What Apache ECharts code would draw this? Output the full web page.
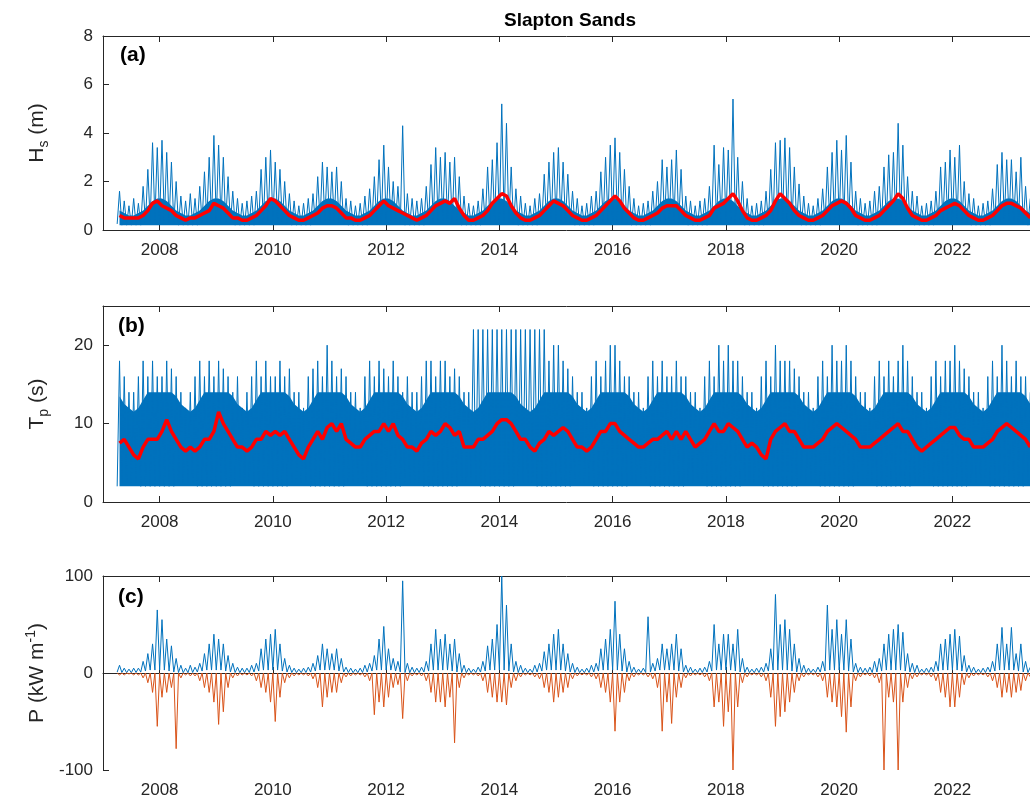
<!DOCTYPE html>
<html>
<head>
<meta charset="utf-8">
<script src="https://cdn.jsdelivr.net/npm/echarts@6/dist/echarts.min.js"></script>
<style>html,body{margin:0;padding:0;background:#fff}#chart{width:1030px;height:809px}</style>
</head>
<body>
<div id="chart"></div>
<script>
// monthly values, Apr 2007 .. May 2023
const startYear = 2007, startMonth = 3;
const yearTicks = [2008, 2010, 2012, 2014, 2016, 2018, 2020, 2022];

const hsPeak = [
  1.6,1.2,1.0,1.3,1.1,1.8,2.5,3.6,3.4,
  3.7,3.2,2.8,2.0,1.4,1.2,1.5,1.3,1.8,2.4,3.0,3.9,
  3.5,3.0,2.2,1.6,1.3,1.1,1.2,1.4,1.6,2.5,3.0,3.3,
  2.8,2.5,2.0,1.5,1.2,1.0,1.1,1.3,1.5,2.2,2.8,2.6,
  2.4,2.6,2.0,1.3,1.2,1.0,1.1,1.4,1.7,2.2,2.9,3.5,
  2.6,2.0,1.8,4.3,1.5,1.3,1.2,1.3,1.8,2.7,3.4,3.0,
  3.2,2.8,3.0,2.2,1.4,1.1,1.0,1.2,1.7,2.6,2.9,3.6,
  5.2,4.4,2.6,1.7,1.4,1.1,1.0,1.3,1.5,2.3,2.8,3.2,
  3.4,2.8,2.3,1.6,1.3,1.0,1.1,1.4,1.6,2.4,3.0,3.5,
  3.8,3.2,2.5,1.8,1.3,1.0,1.1,1.2,1.6,2.0,2.9,2.6,
  2.9,3.3,2.5,1.4,1.2,1.0,1.2,1.3,1.8,3.5,2.7,3.4,
  3.3,5.4,3.0,2.0,1.3,1.0,1.1,1.2,1.6,2.5,3.6,3.7,
  3.8,3.4,2.6,1.9,1.4,1.1,1.0,1.3,1.7,2.6,3.2,3.7,
  3.3,3.9,2.8,1.6,1.3,1.1,1.2,1.6,1.8,2.6,3.1,3.2,
  4.4,3.5,2.2,1.6,1.4,1.0,1.1,1.2,1.6,2.6,2.8,3.3,
  3.0,3.5,2.0,1.5,1.3,1.0,1.1,1.2,1.7,2.7,3.2,2.9,
  2.9,2.4,3.0,1.8,1.3
];
const hsLowByMonth = [0.4,0.4,0.3,0.25,0.2,0.2,0.2,0.2,0.2,0.3,0.35,0.4];
const hsBandByMonth = [1.3,1.2,1.0,0.8,0.7,0.6,0.6,0.7,0.8,1.0,1.2,1.3];
const hsMean = [
  .6,.5,.5,.5,.5,.6,.8,1.1,1.2,
  1.0,.9,.8,.6,.5,.4,.5,.5,.6,.7,.8,1.1,
  1.0,.9,.7,.5,.5,.4,.4,.5,.6,.8,1.0,1.3,
  1.2,1.0,.8,.6,.5,.4,.4,.5,.6,.7,.9,1.0,
  1.0,.9,.7,.5,.5,.4,.4,.5,.6,.8,1.0,1.2,
  1.0,.9,.8,.7,.6,.5,.4,.5,.6,.8,1.0,1.1,
  1.2,1.1,1.3,.9,.6,.4,.4,.5,.6,.8,1.1,1.3,
  1.5,1.4,1.0,.7,.5,.4,.4,.5,.6,.8,1.0,1.2,
  1.1,1.0,.8,.6,.5,.4,.4,.5,.6,.8,1.0,1.2,
  1.4,1.2,.9,.7,.5,.4,.4,.5,.6,.7,.9,1.0,
  1.0,1.0,.8,.6,.5,.4,.4,.5,.6,.9,1.0,1.1,
  1.3,1.5,1.2,.8,.5,.4,.4,.5,.6,.8,1.2,1.5,
  1.3,1.1,.8,.6,.5,.4,.4,.5,.6,.8,1.0,1.1,
  1.2,1.1,.9,.6,.5,.4,.4,.5,.6,.8,1.0,1.2,
  1.5,1.3,.9,.6,.5,.4,.4,.5,.6,.8,.9,1.0,
  1.1,1.0,.8,.6,.5,.4,.4,.5,.6,.8,1.0,1.1,
  1.1,1.0,.9,.7,.5
];

const tpPeak = [
  18,16,14,14,16,18,16,18,16,
  16,18,17,16,14,12,14,16,18,16,18,16,
  18,17,16,14,16,12,14,16,18,16,18,16,
  16,18,16,17,14,14,12,16,17,18,16,20,
  18,16,17,16,14,14,12,16,18,16,18,17,
  16,18,16,14,16,14,14,16,18,18,16,18,
  18,16,17,16,14,14,22,22,22,22,22,22,
  22,22,22,22,22,22,22,22,22,22,18,20,
  20,18,17,16,14,14,12,16,18,16,18,20,
  20,18,16,16,14,14,12,16,18,16,18,16,
  16,18,16,16,14,14,12,16,18,16,20,18,
  20,18,18,16,14,14,12,16,18,16,20,18,
  18,18,17,16,14,14,12,16,18,16,20,18,
  18,20,18,16,14,14,12,16,18,16,18,16,
  18,20,18,16,14,14,12,16,18,16,18,18,
  20,18,17,16,14,14,12,16,18,16,20,18,
  16,18,16,16,14
];
const tpLowByMonth = [2,2,2,2,2.5,2.5,2.5,2.5,2,2,2,2];
const tpBandByMonth = [14,14,14,13.5,12.5,12,11.5,12,13,14,14,14];
const tpMean = [
  7.5,8,7,6,5.5,7,8,8,8,
  9,10.5,9,8,7,6.5,7,6.5,7,8,8,9,
  11.5,10,9,8,7,7,6.5,7,8,8,9,8.5,
  9,8.5,9,8,7,6,5.5,7,8,9,8,9.5,
  10,9,10,8,7.5,7,7,8,8.5,9,9,10,
  9,10,8.5,8,7,7,6.5,7.5,8,9,8.5,9,
  10,9.5,8.5,9,7,7,7,8,8,8.5,9,10,
  10.5,10.5,10,9,8,8,7,6.5,7.5,8,9,8.5,
  9,9.5,9,8,7,7,6.5,7,8,9,9,10,
  10,9,8.5,8,7.5,7,7,7.5,8,8,8.5,9,
  8,9,8,9,8,7,7.5,8,9,10,9,9,
  10,9.5,9,8,7,7.5,7,6,5.5,8,9,9.5,
  10,9,9,8,7,7,7,7.5,8,9,9.5,10,
  9.5,9,8.5,8,7,7,7,7.5,8,8.5,9,9.5,
  10,9,9,8,7,6.5,7,7.5,8,8.5,9,9.5,
  9.5,8.5,8,8,7,7,7,7.5,8,9,9.5,10,
  9.5,9,8.5,8,7
];

const pPos = [
  8,5,4,5,5,12,20,30,65,
  55,35,28,15,8,5,8,6,10,20,30,40,
  35,30,18,10,6,5,5,8,10,25,35,40,
  45,30,15,8,5,4,5,6,10,18,30,25,
  20,25,15,6,5,4,5,8,10,18,35,48,
  25,15,12,95,10,6,5,6,12,30,45,35,
  40,30,35,20,8,5,4,6,12,28,35,50,
  100,70,30,12,8,5,4,8,10,22,30,40,
  45,30,20,10,6,4,5,8,10,25,35,45,
  74,40,25,12,6,4,5,58,10,15,30,25,
  30,40,25,8,6,4,5,6,12,50,30,40,
  40,30,45,15,6,4,5,6,10,25,81,50,
  55,45,30,15,8,5,4,6,12,70,45,55,
  40,55,35,10,6,5,6,12,15,30,40,45,
  50,42,20,10,8,4,5,6,12,30,35,40,
  45,38,18,8,6,4,5,6,12,30,47,30,
  47,20,30,12,6
];
const pLowByMonth = [3,3,2,1,0.5,0.3,0.3,0.5,1,2,3,3];
const pNeg = [
  -2,-2,-1,-2,-2,-5,-10,-20,-55,
  -25,-20,-15,-78,-5,-2,-3,-3,-8,-15,-20,-30,
  -53,-40,-15,-5,-3,-2,-2,-3,-8,-15,-20,-30,
  -50,-25,-10,-5,-3,-2,-2,-3,-6,-15,-35,-25,
  -20,-20,-10,-4,-3,-2,-2,-4,-8,-43,-30,-35,
  -25,-15,-12,-47,-8,-3,-2,-3,-8,-20,-30,-30,
  -35,-25,-72,-15,-5,-2,-2,-3,-8,-20,-25,-30,
  -30,-33,-15,-8,-4,-2,-2,-4,-6,-15,-20,-30,
  -25,-20,-15,-6,-3,-2,-2,-4,-6,-15,-20,-30,
  -60,-30,-20,-8,-4,-2,-2,-4,-6,-15,-60,-30,
  -52,-25,-15,-5,-3,-2,-2,-4,-8,-35,-30,-55,
  -40,-100,-35,-10,-4,-2,-2,-4,-8,-25,-55,-45,
  -40,-30,-20,-8,-4,-2,-2,-4,-8,-25,-30,-35,
  -45,-61,-35,-8,-4,-2,-3,-5,-10,-100,-25,-30,
  -100,-30,-15,-6,-4,-2,-2,-4,-8,-20,-25,-35,
  -35,-25,-12,-5,-3,-2,-2,-4,-8,-15,-25,-20,
  -25,-20,-18,-8,-4
];

function monthPos(i) { return startYear + (startMonth + i) / 12; }
function calMonth(i) { return (startMonth + i) % 12; }
// low at month start, peak at mid-month
function zigzag(peaks, lowFn) {
  const out = [];
  peaks.forEach((v, i) => {
    out.push([monthPos(i), lowFn(i)]);
    out.push([monthPos(i) + 1 / 24, v]);
  });
  return out;
}
function smooth(vals) { return vals.map((v, i) => [monthPos(i) + 1 / 24, v]); }
function band(byMonth, n) {
  const out = [];
  for (let i = 0; i < n; i++) out.push([monthPos(i) + 1 / 24, byMonth[calMonth(i)]]);
  return out;
}

const chart = echarts.init(document.getElementById('chart'));
const axisCol = '#262626';
const font = 'Liberation Sans, Arial, sans-serif';
const xMin = 2007.0, xMax = 2023.37;
const blue = '#0072BD', red = '#FF0000', orange = '#D95319';

function xAxisBottom(idx) {
  return {
    type: 'value', gridIndex: idx, min: xMin, max: xMax,
    axisLine: { lineStyle: { color: axisCol } },
    axisTick: { inside: true, length: 6, customValues: yearTicks, lineStyle: { color: axisCol } },
    axisLabel: { customValues: yearTicks, formatter: v => String(v), color: axisCol, fontSize: 17, fontFamily: font, margin: 12 },
    splitLine: { show: false }
  };
}
function xAxisTop(idx) {
  return {
    type: 'value', gridIndex: idx, min: xMin, max: xMax, position: 'top',
    axisLine: { lineStyle: { color: axisCol } },
    axisTick: { inside: true, length: 6, customValues: yearTicks, lineStyle: { color: axisCol } },
    axisLabel: { show: false }, splitLine: { show: false }
  };
}
function yAxis(idx, min, max, interval, name, rich) {
  return {
    type: 'value', gridIndex: idx, min, max, interval,
    axisLine: { show: true, lineStyle: { color: axisCol } },
    axisTick: { inside: true, length: 6, lineStyle: { color: axisCol } },
    axisLabel: { color: axisCol, fontSize: 17, fontFamily: font, showMaxLabel: max !== 25, margin: 10 },
    splitLine: { show: false },
    name, nameLocation: 'middle', nameRotate: 90, nameGap: 52,
    nameTextStyle: { rich }
  };
}
const base = { fontSize: 21, color: axisCol, fontFamily: font };
const richA = { a: base, s: { ...base, fontSize: 14, padding: [14, 0, 0, 0] } };
const richC = { a: base, s: { ...base, fontSize: 14, padding: [0, 0, 12, 0] } };
const n = hsPeak.length;

chart.setOption({
  animation: false,
  title: { text: 'Slapton Sands', left: 565, top: 6, textAlign: 'center',
    textStyle: { fontSize: 19, fontWeight: 'bold', color: '#000', fontFamily: font } },
  grid: [
    { left: 103, right: 0, top: 36, bottom: 579 },
    { left: 103, right: 0, top: 306, bottom: 307 },
    { left: 103, right: 0, top: 576, bottom: 39 }
  ],
  xAxis: [xAxisBottom(0), xAxisBottom(1), xAxisBottom(2), xAxisTop(0), xAxisTop(1), xAxisTop(2)],
  yAxis: [
    yAxis(0, 0, 8, 2, '{a|H}{s|s}{a| (m)}', richA),
    yAxis(1, 0, 25, 10, '{a|T}{s|p}{a| (s)}', richA),
    yAxis(2, -100, 100, 100, '{a|P (kW m}{s|-1}{a|)}', richC)
  ],
  graphic: [
    { type: 'text', left: 120, top: 45, style: { text: '(a)', font: 'bold 21px Liberation Sans, Arial', fill: '#000' } },
    { type: 'text', left: 118, top: 316, style: { text: '(b)', font: 'bold 21px Liberation Sans, Arial', fill: '#000' } },
    { type: 'text', left: 118, top: 587, style: { text: '(c)', font: 'bold 21px Liberation Sans, Arial', fill: '#000' } }
  ],
  series: [
    { type: 'line', xAxisIndex: 0, yAxisIndex: 0, symbol: 'none', lineStyle: { width: 0 },
      areaStyle: { color: blue, origin: 0.2, opacity: 1 }, data: band(hsBandByMonth, n) },
    { type: 'line', xAxisIndex: 0, yAxisIndex: 0, symbol: 'none', lineStyle: { color: blue, width: 1 },
      data: zigzag(hsPeak, i => hsLowByMonth[calMonth(i)]) },
    { type: 'line', xAxisIndex: 0, yAxisIndex: 0, symbol: 'none', lineStyle: { color: red, width: 3.5 },
      data: smooth(hsMean) },
    { type: 'line', xAxisIndex: 1, yAxisIndex: 1, symbol: 'none', lineStyle: { width: 0 },
      areaStyle: { color: blue, origin: 2, opacity: 1 }, data: band(tpBandByMonth, n) },
    { type: 'line', xAxisIndex: 1, yAxisIndex: 1, symbol: 'none', lineStyle: { color: blue, width: 1 },
      data: zigzag(tpPeak, i => tpLowByMonth[calMonth(i)]) },
    { type: 'line', xAxisIndex: 1, yAxisIndex: 1, symbol: 'none', lineStyle: { color: red, width: 3.5 },
      data: smooth(tpMean) },
    { type: 'line', xAxisIndex: 2, yAxisIndex: 2, symbol: 'none', lineStyle: { color: blue, width: 1 },
      data: zigzag(pPos, i => pLowByMonth[calMonth(i)]) },
    { type: 'line', xAxisIndex: 2, yAxisIndex: 2, symbol: 'none', lineStyle: { color: orange, width: 1 },
      data: zigzag(pNeg, () => 0) }
  ]
});
</script>
</body>
</html>
